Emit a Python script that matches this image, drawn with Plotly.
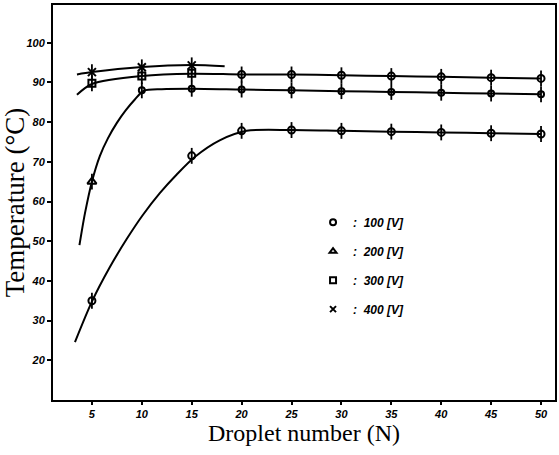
import plotly.graph_objects as go

n_points = [5, 10, 15, 20, 25, 30, 35, 40, 45, 50]
t_100 = [35, 56.5, 71.5, 77.8, 78.0, 77.8, 77.6, 77.4, 77.2, 77.0]
t_200 = [65, 88.0, 88.4, 88.2, 88.0, 87.8, 87.6, 87.4, 87.2, 87.0]
t_300 = [89.8, 91.6, 92.3, 92.0, 92.0, 91.8, 91.6, 91.4, 91.2, 91.0]
n_400 = [5, 10, 15]
t_400 = [92.6, 93.8, 94.3]

# ---- fitted curves as drawn in the reference ----
curve_100_x = [3.3, 5, 6.8, 8.5, 10.1, 11.8, 13.5, 15.3, 17.8, 20.5, 25, 30, 35, 40, 45, 50]
curve_100_y = [24.6, 34.8, 43.5, 50.6, 56.6, 62.1, 66.8, 71.2, 75.4, 77.8, 78.0, 77.8, 77.6, 77.4, 77.2, 77.0]
curve_200_x = [3.75, 4.3, 5, 5.8, 6.6, 7.5, 8.4, 9.3, 10.2, 12, 15, 20, 25, 30, 35, 40, 45, 50]
curve_200_y = [49.0, 57.0, 65.0, 71.5, 75.9, 79.8, 83.0, 85.7, 87.9, 88.3, 88.4, 88.2, 88.0, 87.8, 87.6, 87.4, 87.2, 87.0]
curve_300_x = [3.5, 5, 10, 15, 20, 25, 30, 35, 40, 45, 50]
curve_300_y = [86.9, 89.6, 91.6, 92.2, 92.0, 92.0, 91.8, 91.6, 91.4, 91.2, 91.0]
curve_400_x = [3.5, 5, 10, 15, 18.3]
curve_400_y = [92.0, 92.6, 93.9, 94.4, 94.1]

# 100 V has no marker at N=10 in the reference
marked_100_x = [5, 15, 20, 25, 30, 35, 40, 45, 50]

labels = [":  100 [V]", ":  200 [V]", ":  300 [V]", ":  400 [V]"]
symbols = ["circle-open", "triangle-up-open", "square-open", "x-thin-open"]

fig = go.Figure()


def curve(xs, ys):
    fig.add_trace(go.Scatter(x=xs, y=ys, mode="lines",
                             line=dict(color="black", width=2, shape="spline", smoothing=0.8),
                             showlegend=False, hoverinfo="skip"))


curve(curve_100_x, curve_100_y)
curve(curve_200_x, curve_200_y)
curve(curve_300_x, curve_300_y)
curve(curve_400_x, curve_400_y)


def marks(xs, ys, sym, size):
    fig.add_trace(go.Scatter(
        x=xs, y=ys, mode="markers",
        marker=dict(symbol=sym, size=size, color="black", line=dict(width=2, color="black")),
        error_y=dict(type="constant", value=2.0, color="black", thickness=1.8, width=0),
        showlegend=False))


m100 = [(x, y) for x, y in zip(n_points, t_100) if x in marked_100_x]
marks([p[0] for p in m100], [p[1] for p in m100], "circle-open", 7)
marks(n_points[:1], t_200[:1], "triangle-up-open", 8)
marks(n_points[1:], t_200[1:], "circle-open", 6)
marks(n_points[:3], t_300[:3], "square-open", 7)
marks(n_points[3:], t_300[3:], "circle-open", 7)
marks(n_400, t_400, "x-thin-open", 8)

# legend entries
for i, (lab, sym) in enumerate(zip(labels, symbols)):
    fig.add_trace(go.Scatter(
        x=[None], y=[None], mode="markers", name=lab, legendgroup=f"g{i}",
        marker=dict(symbol=sym, size=6, color="black", line=dict(width=2, color="black"))))

TICKFONT = dict(family="Liberation Sans", size=11, color="black", weight="bold", style="italic")

fig.update_layout(
    width=559, height=455,
    margin=dict(l=53, r=2, t=5, b=55),
    paper_bgcolor="white", plot_bgcolor="white",
    showlegend=True,
    legend=dict(x=0.518, y=0.487, xanchor="left", yanchor="top",
                traceorder="grouped", tracegroupgap=10,
                bgcolor="rgba(0,0,0,0)", borderwidth=0, itemwidth=30,
                font=dict(family="Liberation Sans", size=12, color="black", weight="bold", style="italic")),
    xaxis=dict(range=[1.1, 51.4], tickmode="array", tickvals=n_points,
               ticks="outside", ticklen=3, tickwidth=1.5, tickcolor="black",
               showline=True, linecolor="black", linewidth=2, mirror=True,
               showgrid=False, zeroline=False, tickfont=TICKFONT,
               title=dict(text="Droplet number (N)", standoff=2,
                          font=dict(family="Liberation Serif", size=24, color="black"))),
    yaxis=dict(range=[10, 109.5], tickmode="array", tickvals=[20, 30, 40, 50, 60, 70, 80, 90, 100],
               ticks="outside", ticklen=4, tickwidth=1.5, tickcolor="black",
               showline=True, linecolor="black", linewidth=2, mirror=True,
               showgrid=False, zeroline=False, tickfont=TICKFONT,
               title=dict(text="Temperature (°C)", standoff=2,
                          font=dict(family="Liberation Serif", size=27, color="black"))),
)

fig.write_html("out.html")
